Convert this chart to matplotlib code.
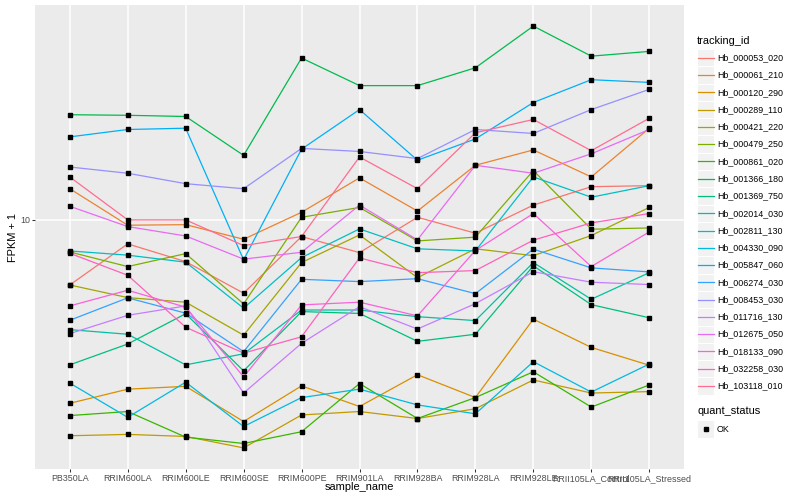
import matplotlib
matplotlib.use('Agg')
import matplotlib.pyplot as plt
import numpy as np
from matplotlib.lines import Line2D
from matplotlib.patches import Rectangle
from matplotlib.ticker import NullLocator

plt.rcParams['font.family'] = ['Liberation Sans', 'DejaVu Sans']

samples = ['PB350LA', 'RRIM600LA', 'RRIM600LE', 'RRIM600SE', 'RRIM600PE',
           'RRIM901LA', 'RRIM928BA', 'RRIM928LA', 'RRIM928LE',
           'RRII105LA_Control', 'RRII105LA_Stressed']

tracking_ids = ['Hb_000053_020', 'Hb_000061_210', 'Hb_000120_290', 'Hb_000289_110',
                'Hb_000421_220', 'Hb_000479_250', 'Hb_000861_020', 'Hb_001366_180',
                'Hb_001369_750', 'Hb_002014_030', 'Hb_002811_130', 'Hb_004330_090',
                'Hb_005847_060', 'Hb_006274_030', 'Hb_008453_030', 'Hb_011716_130',
                'Hb_012675_050', 'Hb_018133_090', 'Hb_032258_030', 'Hb_103118_010']

# FPKM + 1 for each gene, in sample order
hb_000053_020 = [6.07, 8.32, 7.26, 5.70, 8.80, 7.78, 10.2, 9.03, 11.2, 12.9, 13.0]
hb_000061_210 = [12.7, 9.60, 9.64, 8.62, 10.6, 13.8, 10.7, 15.2, 17.1, 13.9, 20.2]
hb_000120_290 = [2.45, 2.73, 2.79, 2.13, 2.80, 2.39, 3.05, 2.56, 4.67, 3.76, 3.28]
hb_000289_110 = [1.91, 1.93, 1.90, 1.74, 2.24, 2.30, 2.18, 2.35, 2.93, 2.65, 2.68]
hb_000421_220 = [6.07, 5.51, 5.32, 4.13, 7.21, 8.91, 6.42, 8.01, 7.60, 8.87, 11.0]
hb_000479_250 = [7.82, 6.99, 7.72, 5.25, 10.2, 11.0, 8.51, 8.76, 14.6, 9.31, 9.40]
hb_000861_020 = [2.23, 2.30, 1.89, 1.80, 1.97, 2.85, 2.18, 2.56, 3.12, 2.38, 2.82]
hb_001366_180 = [22.4, 22.3, 22.1, 16.4, 34.6, 28.0, 28.0, 32.1, 44.2, 35.1, 36.4]
hb_001369_750 = [3.29, 3.86, 4.87, 3.14, 4.95, 4.88, 3.94, 4.16, 7.03, 5.22, 4.72]
hb_002014_030 = [4.31, 4.16, 3.29, 3.58, 5.01, 5.01, 4.76, 4.62, 7.21, 5.44, 6.67]
hb_002811_130 = [7.88, 7.63, 7.23, 5.08, 7.49, 9.33, 8.01, 7.88, 13.9, 11.9, 13.0]
hb_004330_090 = [2.86, 2.20, 2.88, 2.05, 2.56, 2.73, 2.42, 2.26, 3.37, 2.67, 3.31]
hb_005847_060 = [18.9, 20.0, 20.2, 7.36, 17.2, 23.3, 15.8, 18.6, 24.6, 29.3, 28.7]
hb_006274_030 = [4.63, 5.50, 4.89, 3.64, 6.34, 6.23, 6.37, 5.68, 7.99, 6.92, 6.71]
hb_008453_030 = [15.0, 14.3, 13.2, 12.7, 17.3, 16.9, 16.0, 20.0, 19.4, 23.3, 27.2]
hb_011716_130 = [4.18, 4.81, 5.17, 2.65, 3.88, 5.14, 4.33, 5.26, 6.72, 6.20, 6.09]
hb_012675_050 = [11.1, 9.50, 8.84, 7.40, 7.80, 11.2, 8.58, 15.2, 14.3, 16.6, 20.0]
hb_018133_090 = [5.17, 5.83, 5.12, 3.00, 5.21, 5.32, 4.79, 7.91, 10.5, 6.99, 9.12]
hb_032258_030 = [7.74, 6.54, 4.39, 3.60, 4.08, 7.47, 6.67, 6.78, 8.56, 9.77, 10.5]
hb_103118_010 = [13.9, 10.0, 10.0, 8.21, 8.80, 16.2, 12.7, 19.5, 21.6, 17.0, 21.8]

series = [hb_000053_020, hb_000061_210, hb_000120_290, hb_000289_110,
          hb_000421_220, hb_000479_250, hb_000861_020, hb_001366_180,
          hb_001369_750, hb_002014_030, hb_002811_130, hb_004330_090,
          hb_005847_060, hb_006274_030, hb_008453_030, hb_011716_130,
          hb_012675_050, hb_018133_090, hb_032258_030, hb_103118_010]

# ggplot hue palette, 20 levels
colors = ['#F8766D', '#EA8331', '#D89000', '#C09B00', '#A3A500', '#7CAE00',
          '#39B600', '#00BB4E', '#00BF7D', '#00C1A3', '#00BFC4', '#00BAE0',
          '#00B0F6', '#35A2FF', '#9590FF', '#C77CFF', '#E76BF3', '#FA62DB',
          '#FF62BC', '#FF6C91']

W, H = 800, 500


def fx(px):
    return px / W


def fy(py):
    return 1 - py / H


fig = plt.figure(figsize=(8, 5), dpi=100)
ax = fig.add_axes([fx(35), fy(469), (684 - 35) / W, (469 - 5) / H])
ax.set_facecolor('#EBEBEB')

x = np.arange(1, len(samples) + 1)
for vals, col in zip(series, colors):
    ax.plot(x, vals, color=col, lw=0.9, zorder=2)
for vals in series:
    ax.plot(x, vals, 's', color='black', ms=3.0, zorder=3)

ax.set_yscale('log')
logv = np.log10(np.concatenate(series))
lo, hi = logv.min(), logv.max()
pad = 0.05 * (hi - lo)
ax.set_ylim(10 ** (lo - pad), 10 ** (hi + pad))
ax.set_xlim(0.4, len(samples) + 0.6)

ax.set_xticks(x)
ax.set_xticklabels(samples)
ax.set_yticks([10])
ax.set_yticklabels(['10'])
ax.yaxis.set_minor_locator(NullLocator())
ax.grid(True, color='white', lw=1.1)
ax.set_axisbelow(True)
for s in ax.spines.values():
    s.set_visible(False)
ax.tick_params(length=2.0, width=0.75, color='#333333', labelcolor='#4D4D4D',
               labelsize=6.4, pad=1.6)

fig.text(fx(359.5), fy(487), 'sample_name', ha='center', va='center', fontsize=7.9)
fig.text(fx(13.5), fy(237), 'FPKM + 1', ha='center', va='center',
         rotation=90, fontsize=7.9)

# legend: tracking_id
key = 17.28
fig.text(fx(697), fy(40.7), 'tracking_id', ha='left', va='center', fontsize=7.9)
for i, (name, col) in enumerate(zip(tracking_ids, colors)):
    cy = 57.7 + i * key
    fig.add_artist(Rectangle((fx(697), fy(cy + key / 2)), key / W, key / H,
                             transform=fig.transFigure, facecolor='#F2F2F2',
                             edgecolor='white', lw=0.8))
    fig.add_artist(Line2D([fx(698), fx(713.5)], [fy(cy), fy(cy)], color=col, lw=0.9,
                          transform=fig.transFigure))
    fig.text(fx(717), fy(cy), name, ha='left', va='center', fontsize=6.4)

# legend: quant_status
fig.text(fx(697), fy(411.5), 'quant_status', ha='left', va='center', fontsize=7.9)
cy = 429
fig.add_artist(Rectangle((fx(697), fy(cy + key / 2)), key / W, key / H,
                         transform=fig.transFigure, facecolor='#F2F2F2',
                         edgecolor='white', lw=0.8))
fig.add_artist(Line2D([fx(705.6)], [fy(cy)], marker='s', ms=3.0, color='black',
                      lw=0, transform=fig.transFigure))
fig.text(fx(717), fy(cy), 'OK', ha='left', va='center', fontsize=6.4)

fig.savefig('out.png', dpi=100)
